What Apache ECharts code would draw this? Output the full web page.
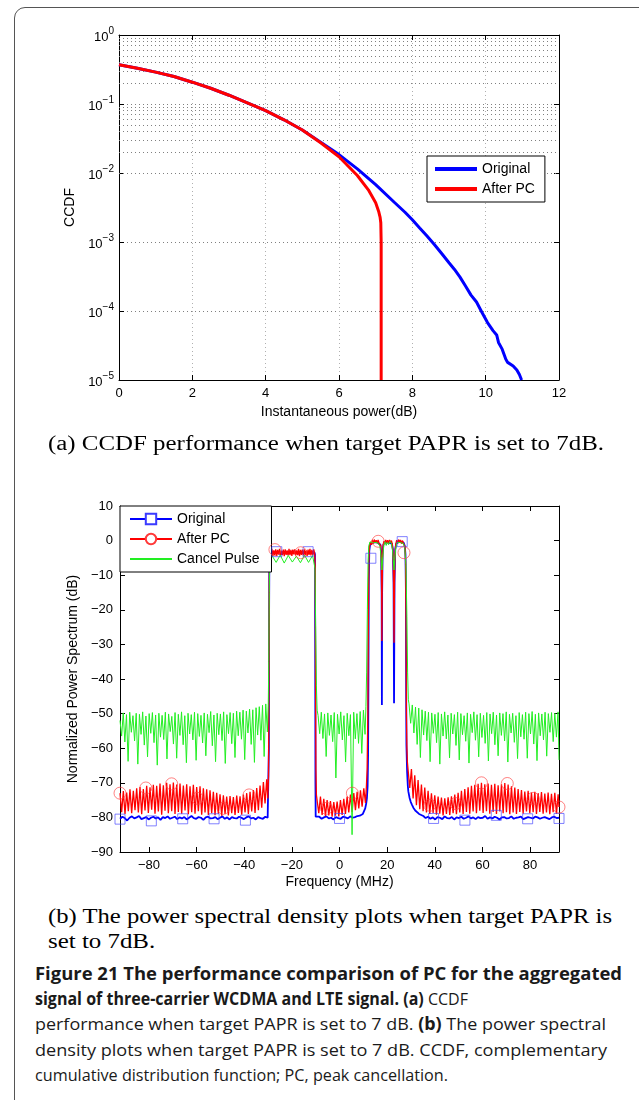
<!DOCTYPE html>
<html><head><meta charset="utf-8">
<script src="https://cdn.jsdelivr.net/npm/echarts@6/dist/echarts.min.js"></script>
<style>
body{margin:0;background:#fff;width:639px;height:1100px;overflow:hidden;position:relative;font-family:"Liberation Sans",Arial,sans-serif}
#frame{position:absolute;left:14px;top:7px;width:700px;height:1200px;border:1px solid #555;border-radius:11px;box-sizing:border-box}
#chart{position:absolute;left:0;top:0;width:639px;height:900px}
.cap{position:absolute;white-space:nowrap;transform-origin:0 50%;line-height:1}
.serif{font-family:"Liberation Serif","DejaVu Serif",serif;font-size:20px;color:#000}
.fig{font-family:"Open Sans","Lato",sans-serif;font-size:17px;color:#1a1a1a}
</style></head><body>
<div id="frame"></div>
<div id="chart"></div>
<div class="cap serif" data-w="556" data-c="443" style="left:48px">(a) CCDF performance when target PAPR is set to 7dB.</div>
<div class="cap serif" data-w="564" data-c="916" style="left:48px">(b) The power spectral density plots when target PAPR is</div>
<div class="cap serif" data-same="0" data-c="941" style="left:48px">set to 7dB.</div>
<div class="cap fig" data-w="587" data-c="973" style="left:35px"><b>Figure 21 The performance comparison of PC for the aggregated</b></div>
<div class="cap fig" data-w="433" data-c="998" style="left:35px"><b>signal of three-carrier WCDMA and LTE signal. (a)</b> CCDF</div>
<div class="cap fig" data-w="571" data-c="1023" style="left:35px">performance when target PAPR is set to 7 dB. <b>(b)</b> The power spectral</div>
<div class="cap fig" data-w="572" data-c="1049" style="left:35px">density plots when target PAPR is set to 7 dB. CCDF, complementary</div>
<div class="cap fig" data-w="413" data-c="1074" style="left:35px">cumulative distribution function; PC, peak cancellation.</div>
<script>
// ================= (a) CCDF data =================
const ccdfX_orig = [0,0.5,1,1.5,2,2.5,3,3.5,4,4.5,5,5.5,6,6.5,7,7.5,7.8,8.0,8.2,8.4,8.6,8.8,9.0,9.15,9.3,9.45,9.6,9.75,9.9,10.05,10.2,10.3,10.35,10.45,10.5,10.55,10.6,10.75,10.85,10.92,10.98];
const ccdfY_orig = [0.37,0.33,0.29,0.25,0.207,0.169,0.134,0.104,0.080,0.059,0.042,0.028,0.0185,0.0115,0.0068,0.0038,0.0027,0.0021,0.0016,0.00122,0.00092,0.00068,0.00050,0.00040,0.00031,0.00023,0.00017,0.000135,0.000095,0.000068,0.000052,0.000045,0.000035,0.000028,0.000027,0.000020,0.000018,0.000016,0.000014,0.000012,0.00001];
const ccdfX_pc = [0,0.5,1,1.5,2,2.5,3,3.5,4,4.5,5,5.5,6,6.5,6.8,7.0,7.08,7.12,7.14,7.15,7.15];
const ccdfY_pc = [0.37,0.33,0.29,0.25,0.207,0.169,0.134,0.104,0.080,0.059,0.042,0.0275,0.0172,0.0092,0.0057,0.0037,0.0028,0.0023,0.0019,0.0010,0.00001];

// ================= (b) PSD data (MHz, dB) =================
// Original
const origL_start = -92.16, origL_step = 1.0;
const origL = [-80.4,-79.8,-80.2,-80.9,-80.1,-79.7,-80.3,-80.0,-79.6,-80.5,
-80.2,-79.9,-80.6,-80.1,-79.8,-80.3,-80.0,-80.7,-79.9,-80.2,
-79.7,-80.4,-80.1,-79.8,-80.5,-80.0,-80.3,-79.9,-80.6,-80.1,
-79.6,-80.2,-80.4,-79.9,-80.1,-80.7,-80.0,-79.8,-80.3,-80.2,
-79.9,-80.5,-80.1,-79.7,-80.4,-80.0,-80.6,-79.9,-80.2,-80.3,
-79.8,-80.1,-80.5,-80.0,-79.7,-80.3,-80.1,-80.6,-79.9,-80.2,
-80.4,-79.8,-80.1];
const origEdge1 = [[-29.8,-80.2],[-29.65,-60],[-29.55,-20],[-29.45,-5],[-29.3,-3.4]];
const origTop1_start = -29.0, origTop1_step = 0.5;
const origTop1 = [-3.3,-3.6,-3.2,-3.8,-3.4,-3.5,-3.1,-3.7,-3.3,-3.9,-3.4,-3.2,-3.6,-3.5,-3.3,-3.8,-3.2,-3.5,-3.4,-3.7,-3.1,-3.6,-3.3,-3.5,-3.8,-3.2,-3.4,-3.6,-3.3,-3.7,-3.2,-3.5,-3.4,-3.6,-3.3,-3.5,-3.2,-3.4];
const origEdge2 = [[-10.3,-4],[-10.2,-30],[-10.1,-70],[-10.0,-79.8]];
const origMid_start = -9.5, origMid_step = 1.0;
const origMid = [-80.1,-79.8,-80.4,-80.0,-79.7,-80.3,-80.1,-80.6,-79.9,-80.2,-80.4,-79.8,-80.0,-80.3,-79.7,-80.1,-79.9,-79.6,-79.5];
const origBand2 = [[9.2,-79.3],[9.8,-79.0],[10.3,-78.5],[10.8,-77.4],[11.2,-76.0],[11.5,-74.5],[11.8,-71],[12.0,-62],[12.15,-40],[12.3,-12],[12.5,-3],[12.8,-1.3],
[13.5,-0.8],[14.2,-0.4],[15.0,-0.2],[15.8,-0.5],[16.6,-0.6],[17.2,-1.2],[17.5,-3.5],[17.7,-15],[17.8,-47.5],[17.9,-15],[18.1,-3.5],[18.4,-1.2],[19.0,-0.5],[19.8,-0.3],[20.5,-0.6],[21.3,-0.4],[22.0,-0.9],[22.4,-2.5],[22.7,-12],[22.9,-47],[23.1,-12],[23.4,-2.5],[23.8,-0.9],[24.5,-0.4],[25.3,-0.2],[26.1,-0.5],[26.9,-0.6],[27.4,-1.5],[27.7,-4],[27.9,-15],[28.0,-45],[28.1,-59],[28.4,-67],[28.7,-71],[28.9,-72.5],[29.4,-74.3],[29.9,-75.5],[30.4,-76.3],[31.0,-77.2],[31.8,-78.0],[32.6,-78.5],[33.4,-79.0],[34.3,-79.3],[35.2,-79.6]];
const origR_start = 36.16, origR_step = 1.0;
const origR = [-80.2,-79.8,-80.4,-80.0,-80.6,-79.9,-80.1,-80.5,-79.7,-80.2,
-80.3,-79.9,-80.6,-80.0,-80.2,-79.8,-80.4,-80.1,-79.7,-80.3,
-80.0,-80.5,-79.9,-80.2,-80.1,-79.6,-80.4,-80.0,-80.3,-79.8,
-80.1,-80.6,-80.0,-79.9,-80.3,-80.2,-79.7,-80.4,-80.1,-80.0,
-79.8,-80.5,-80.2,-79.9,-80.1,-80.3,-79.8,-80.0,-80.4,-80.1,
-79.9,-80.2,-80.5,-80.0,-79.8,-80.2,-80.1];
const origMarkers = [[-92.16,-80.5],[-79.0,-81.0],[-65.83,-80.4],[-52.66,-80.4],[-39.5,-80.8],[-26.33,-3.2],[-13.17,-3.2],[0,-80.3],[13.17,-5.1],[26.33,-0.3],[39.5,-80.3],[52.66,-80.8],[65.83,-79.4],[79.0,-80.4],[92.16,-80.3]];

// After PC
const pcL_start = -92.16, pcL_step = 0.7;
const pcL = [-73.0,-78.5,-72.4,-79.0,-72.8,-78.2,-71.9,-78.8,-72.3,-77.9,
-71.6,-78.6,-71.2,-79.1,-71.8,-78.0,-70.9,-78.7,-71.3,-77.8,
-70.6,-78.9,-70.9,-78.3,-70.2,-79.2,-70.7,-78.1,-70.0,-78.8,
-70.4,-78.2,-69.9,-79.0,-70.5,-78.4,-70.2,-78.9,-70.8,-78.0,
-70.4,-79.1,-71.0,-78.5,-70.6,-78.9,-71.2,-78.2,-71.0,-79.2,
-71.6,-78.6,-71.9,-79.3,-72.2,-78.8,-72.6,-79.4,-72.9,-78.9,
-73.3,-79.5,-73.6,-79.0,-74.0,-79.4,-73.8,-78.8,-74.1,-79.3,
-73.7,-78.7,-73.9,-79.2,-73.4,-78.6,-73.0,-79.0,-72.6,-78.3,
-72.1,-78.7,-71.5,-77.9,-70.8,-77.2,-69.8,-76.0,-69.0];
const pcEdge1 = [[-30.1,-74.5],[-29.8,-68],[-29.65,-45],[-29.5,-12],[-29.35,-3.5]];
const pcTop1_start = -29.2, pcTop1_step = 0.4;
const pcTop1 = [-2.6,-4.2,-2.4,-4.5,-2.8,-4.1,-2.5,-4.4,-2.7,-4.0,-2.4,-4.3,-2.9,-4.2,-2.6,-4.5,-2.5,-4.1,-2.8,-4.3,-2.4,-4.2,-2.7,-4.4,-2.6,-4.0,-2.5,-4.3,-2.8,-4.2,-2.4,-4.5,-2.7,-4.1,-2.6,-4.3,-2.5,-4.2,-2.8,-4.4,-2.6,-4.1,-2.4,-4.3,-2.7,-4.2,-2.5,-4.0];
const pcEdge2 = [[-10.2,-8],[-10.05,-40],[-9.9,-66],[-9.7,-73.5]];
const pcMid_start = -9.4, pcMid_step = 0.7;
const pcMid = [-73.0,-78.8,-74.0,-79.3,-74.6,-79.6,-75.0,-79.4,-75.3,-79.8,
-75.6,-79.5,-75.4,-79.7,-75.0,-79.3,-74.6,-79.0,-74.0,-78.6,
-73.4,-78.4,-73.0,-77.9,-72.6,-77.4,-72.2,-76.9,-71.6,-75.8];
const pcBand2 = [[11.3,-71],[11.6,-66],[11.9,-50],[12.15,-20],[12.35,-5],[12.6,-1.5],
[13.0,-0.4],[13.4,-1.2],[13.8,0.2],[14.2,-0.9],[14.6,0.3],[15.0,-0.6],[15.4,0.1],[15.8,-0.8],[16.2,0.2],[16.6,-0.7],[17.0,-0.2],[17.3,-1.5],[17.55,-5],[17.7,-15],[17.8,-29],[17.9,-15],[18.05,-5],[18.3,-1.5],[18.6,-0.2],[19.0,-0.9],[19.4,0.2],[19.8,-0.7],[20.2,0.1],[20.6,-0.8],[21.0,0.2],[21.4,-0.6],[21.8,0],[22.2,-1.2],[22.5,-4],[22.7,-12],[22.9,-29.5],[23.1,-12],[23.3,-4],[23.6,-1.2],[24.0,0.1],[24.4,-0.8],[24.8,0.3],[25.2,-0.6],[25.6,0.2],[26.0,-0.9],[26.4,0],[26.8,-0.7],[27.2,-0.3],[27.5,-1.8],[27.75,-6],[27.95,-25],[28.1,-50],[28.3,-60],[28.5,-64]];
const pcR_start = 28.8, pcR_step = 0.7;
const pcR = [-64.0,-71.5,-66.0,-74.5,-67.8,-76.5,-69.2,-77.6,-70.5,-78.2,
-71.4,-78.6,-72.3,-79.0,-73.0,-78.7,-73.6,-79.2,-74.0,-78.9,
-74.3,-79.4,-74.5,-79.0,-74.2,-79.3,-73.9,-78.8,-73.4,-79.1,
-72.9,-78.6,-72.3,-79.0,-71.8,-78.4,-71.3,-78.9,-70.9,-78.3,
-70.6,-78.8,-70.3,-78.1,-70.0,-78.7,-70.4,-78.2,-70.2,-78.9,
-70.6,-78.4,-70.3,-79.0,-70.7,-78.3,-70.4,-78.8,-70.1,-78.5,
-70.5,-79.1,-71.0,-78.6,-71.4,-79.0,-71.8,-78.4,-72.1,-78.9,
-72.5,-78.3,-72.3,-78.8,-72.8,-78.5,-72.6,-79.0,-73.0,-78.4,
-72.7,-78.9,-73.1,-78.6,-72.8,-79.1,-73.2,-78.5,-72.9,-78.9,
-73.3];
const pcEnd = [[92.16,-77.0]];
const pcMarkers = [[-92.16,-73.0],[-81.32,-71.5],[-70.48,-70.3],[-59.64,-74.5],[-48.8,-77.4],[-37.96,-73.5],[-27.12,-2.6],[-16.28,-3.5],[-5.44,-77.4],[5.4,-73.0],[16.24,-0.2],[27.08,-3.5],[37.92,-76.5],[48.76,-76.0],[59.6,-70.0],[70.44,-70.2],[81.28,-74.5],[92.16,-77.0]];

// Cancel Pulse
const cpL_start = -92.16, cpL_step = 0.68;
const cpL = [-52.0,-56.5,-49.8,-58.2,-50.3,-63.8,-49.6,-55.4,-50.6,-57.9,
-49.9,-64.6,-50.2,-56.0,-49.5,-59.1,-50.7,-62.5,-50.0,-55.7,
-49.7,-58.4,-50.4,-64.9,-49.9,-56.8,-50.5,-57.5,-49.6,-63.1,
-50.1,-55.2,-50.8,-58.8,-49.7,-62.9,-50.2,-56.3,-49.5,-59.0,
-50.6,-64.2,-49.9,-55.9,-50.3,-57.6,-49.6,-63.5,-50.0,-56.6,
-50.5,-58.5,-49.8,-62.2,-50.2,-55.5,-49.4,-59.3,-50.4,-63.9,
-49.9,-56.1,-50.1,-57.8,-49.5,-64.4,-50.3,-55.8,-49.7,-58.7,
-49.9,-62.7,-49.3,-56.4,-49.6,-57.4,-49.0,-63.3,-49.3,-55.6,
-48.7,-58.9,-48.9,-64.1,-48.3,-56.2,-48.0,-57.7,-47.6,-62.4,
-47.2,-55.3];
const cpEdge1 = [[-29.9,-47],[-29.7,-35],[-29.5,-15],[-29.3,-7],[-29.0,-5]];
const cpTop1_start = -28.3, cpTop1_step = 1.7;
const cpTop1 = [-4.4,-6.3,-4.2,-6.5,-4.3,-6.2,-4.5,-6.4,-4.2,-6.3,-4.3];
const cpEdge2 = [[-10.6,-3.8],[-10.3,-8],[-10.0,-25],[-9.7,-42],[-9.4,-49]];
const cpMid_start = -9.0, cpMid_step = 0.68;
const cpMid = [-50.5,-55.8,-49.6,-57.2,-50.1,-62.4,-49.8,-56.3,-50.4,-58.1,
-49.7,-68.6,-50.2,-55.9,-49.5,-57.6,-50.6,-64.0,-49.9,-56.4,
-50.3,-85.0,-49.6,-57.3,-50.0,-58.6,-49.4,-61.5,-49.0,-56.0];
const cpBand2 = [[11.1,-48],[11.4,-38],[11.7,-20],[12.0,-6],[12.3,-1.5],
[12.8,-0.4],[13.5,0],[14.3,-0.6],[15.0,-0.1],[15.8,-0.5],[16.5,-0.3],[17.0,-1.6],[17.4,-4.5],[17.8,-8.5],[18.2,-4.5],[18.6,-1.4],[19.1,-0.3],[19.6,-1.4],[20.1,-0.5],[20.6,-1.2],[21.2,-0.2],[21.8,-0.8],[22.2,-2.5],[22.6,-5.5],[22.9,-8.5],[23.2,-5.5],[23.6,-2.2],[24.1,-0.6],[24.8,-0.1],[25.5,-0.5],[26.2,-0.2],[26.9,-0.9],[27.4,-2.2],[27.9,-7],[28.3,-22],[28.6,-38],[28.9,-46]];
const cpR_start = 29.2, cpR_step = 0.68;
const cpR = [-47.2,-52.8,-47.5,-55.6,-48.1,-58.9,-48.4,-62.7,-48.9,-56.2,
-49.3,-57.8,-49.6,-63.9,-49.8,-55.7,-50.2,-58.4,-49.7,-64.6,
-50.1,-56.5,-49.5,-57.3,-50.4,-62.8,-49.9,-55.9,-50.3,-59.2,
-49.6,-63.4,-50.0,-56.1,-50.6,-58.0,-49.8,-64.3,-50.2,-55.5,
-49.5,-57.7,-50.3,-62.5,-49.9,-56.9,-50.5,-58.6,-49.7,-63.7,
-50.1,-55.8,-49.6,-59.0,-50.4,-62.2,-49.8,-56.3,-50.0,-57.9,
-49.5,-64.0,-50.2,-55.6,-49.9,-58.3,-50.6,-63.0,-49.7,-56.7,
-50.3,-57.4,-49.6,-62.9,-50.0,-55.9,-49.4,-58.8,-50.2,-63.6,
-49.8,-56.4,-50.1,-57.6,-49.6,-62.3,-50.0,-55.4,-49.7,-58.1,
-49.9,-56.8,-49.5];
const cpEnd = [[92.16,-63.4]];

const psdXTicks = [-80,-60,-40,-20,0,20,40,60,80];

// ================= build =================
const seg = (start, step, ys) => ys.map((y, i) => [+(start + i * step).toFixed(3), y]);
const zip = (xs, ys) => xs.map((x, i) => [x, ys[i]]);
const origData = [].concat(seg(origL_start, origL_step, origL), origEdge1, seg(origTop1_start, origTop1_step, origTop1), origEdge2, seg(origMid_start, origMid_step, origMid), origBand2, seg(origR_start, origR_step, origR));
const pcData = [].concat(seg(pcL_start, pcL_step, pcL), pcEdge1, seg(pcTop1_start, pcTop1_step, pcTop1), pcEdge2, seg(pcMid_start, pcMid_step, pcMid), pcBand2, seg(pcR_start, pcR_step, pcR), pcEnd);
const cpData = [].concat(seg(cpL_start, cpL_step, cpL), cpEdge1, seg(cpTop1_start, cpTop1_step, cpTop1), cpEdge2, seg(cpMid_start, cpMid_step, cpMid), cpBand2, seg(cpR_start, cpR_step, cpR), cpEnd);

const minorGrid = [];
for (let e = -5; e < 0; e++) for (let m = 2; m <= 9; m++) minorGrid.push({ yAxis: m * Math.pow(10, e) });

const FONT = '"Liberation Sans", Arial, Helvetica, sans-serif';
const minus = v => (v < 0 ? '\u2212' + (-v) : '' + v);
const axisBase = (extra) => Object.assign({
  axisLine: { show: true, onZero: false, lineStyle: { color: '#000', width: 1 } },
  axisTick: { show: true, inside: true, length: 5, lineStyle: { color: '#000' } },
  axisLabel: { color: '#000', fontSize: 13, fontFamily: FONT },
  splitLine: { show: false },
  nameTextStyle: { color: '#000', fontSize: 14, fontFamily: FONT }
}, extra);

const chart = echarts.init(document.getElementById('chart'), null, { renderer: 'canvas', width: 639, height: 900 });
chart.setOption({
  animation: false,
  textStyle: { fontFamily: FONT },
  grid: [
    { left: 119, top: 35, width: 440, height: 345 },
    { left: 120, top: 506, width: 439, height: 346 }
  ],
  legend: [
    { data: ['Original', 'After PC'], orient: 'vertical', left: 427, top: 156, icon: 'rect',
      itemWidth: 42, itemHeight: 4, itemGap: 6, padding: [6, 10, 6, 8], borderColor: '#000', borderWidth: 1,
      backgroundColor: '#fff', borderRadius: 0, selectedMode: false,
      textStyle: { color: '#000', fontSize: 14, fontFamily: FONT } },
    { data: [{ name: 'Original ' }, { name: 'After PC ' }, { name: 'Cancel Pulse', itemStyle: { opacity: 0 } }],
      orient: 'vertical', left: 120, top: 506, itemWidth: 42, itemHeight: 13, itemGap: 6,
      padding: [6, 12, 6, 9], borderColor: '#000', borderWidth: 1, backgroundColor: '#fff', borderRadius: 0,
      selectedMode: false, textStyle: { color: '#000', fontSize: 14, fontFamily: FONT } }
  ],
  xAxis: [
    axisBase({ gridIndex: 0, type: 'value', min: 0, max: 12, interval: 2, position: 'bottom',
      axisLabel: { color: '#000', fontSize: 13, margin: 7, fontFamily: FONT },
      splitLine: { show: true, lineStyle: { type: [1, 3], color: '#b0b0b0', width: 1 } },
      name: 'Instantaneous power(dB)', nameLocation: 'middle', nameGap: 25 }),
    axisBase({ gridIndex: 0, type: 'value', min: 0, max: 12, interval: 2, position: 'top', axisLabel: { show: false } }),
    axisBase({ gridIndex: 1, type: 'value', min: -92.16, max: 92.16, position: 'bottom',
      axisLabel: { color: '#000', fontSize: 13, margin: 7, fontFamily: FONT, customValues: psdXTicks, formatter: minus },
      axisTick: { show: true, inside: true, length: 5, lineStyle: { color: '#000' }, customValues: psdXTicks },
      name: 'Frequency (MHz)', nameLocation: 'middle', nameGap: 23 }),
    axisBase({ gridIndex: 1, type: 'value', min: -92.16, max: 92.16, position: 'top',
      axisLabel: { show: false, customValues: psdXTicks },
      axisTick: { show: true, inside: true, length: 5, lineStyle: { color: '#000' }, customValues: psdXTicks } })
  ],
  yAxis: [
    axisBase({ gridIndex: 0, type: 'log', logBase: 10, min: 1e-5, max: 1, position: 'left',
      axisLabel: { color: '#000', margin: 5, fontFamily: FONT,
        formatter: v => { const e = Math.round(Math.log10(v)); return '{b|10}{s|' + minus(e) + '}'; },
        rich: { b: { fontSize: 13, lineHeight: 17, verticalAlign: 'bottom', color: '#000', fontFamily: FONT },
                s: { fontSize: 10, lineHeight: 10, verticalAlign: 'top', color: '#000', fontFamily: FONT } } },
      splitLine: { show: true, lineStyle: { type: [1, 3], color: '#808080', width: 1 } },
      name: 'CCDF', nameLocation: 'middle', nameGap: 39 }),
    axisBase({ gridIndex: 0, type: 'log', logBase: 10, min: 1e-5, max: 1, position: 'right', axisLabel: { show: false } }),
    axisBase({ gridIndex: 1, type: 'value', min: -90, max: 10, interval: 10, position: 'left',
      axisLabel: { color: '#000', fontSize: 13, margin: 7, fontFamily: FONT, formatter: minus },
      name: 'Normalized Power Spectrum (dB)', nameLocation: 'middle', nameGap: 37 }),
    axisBase({ gridIndex: 1, type: 'value', min: -90, max: 10, interval: 10, position: 'right', axisLabel: { show: false } })
  ],
  series: [
    { name: 'Original', type: 'line', xAxisIndex: 0, yAxisIndex: 0, data: zip(ccdfX_orig, ccdfY_orig),
      symbol: 'none', showSymbol: false, lineStyle: { color: '#0000ff', width: 3 }, itemStyle: { color: '#0000ff' },
      markLine: { silent: true, symbol: ['none', 'none'], label: { show: false }, z: 1, animation: false,
        lineStyle: { type: [1, 3], color: '#808080', width: 1 }, emphasis: { disabled: true }, data: minorGrid } },
    { name: 'After PC', type: 'line', xAxisIndex: 0, yAxisIndex: 0, data: zip(ccdfX_pc, ccdfY_pc),
      symbol: 'none', showSymbol: false, lineStyle: { color: '#ff0000', width: 3 }, itemStyle: { color: '#ff0000' } },
    { name: 'Original ', type: 'line', xAxisIndex: 2, yAxisIndex: 2, data: origData, symbol: 'emptyRect', showSymbol: false,
      lineStyle: { color: '#0000ff', width: 1.8 }, itemStyle: { color: '#3a3aff' } },
    { name: 'After PC ', type: 'line', xAxisIndex: 2, yAxisIndex: 2, data: pcData, symbol: 'emptyCircle', showSymbol: false,
      lineStyle: { color: '#ff0000', width: 1.3 }, itemStyle: { color: '#ff3a3a' } },
    { name: 'Cancel Pulse', type: 'line', xAxisIndex: 2, yAxisIndex: 2, data: cpData, symbol: 'emptyCircle', showSymbol: false,
      lineStyle: { color: '#22ee22', width: 1 }, itemStyle: { color: '#22ee22' } },
    { name: 'origMarkers', type: 'scatter', xAxisIndex: 2, yAxisIndex: 2, data: origMarkers, symbol: 'rect', symbolSize: 10, z: 5,
      itemStyle: { color: 'rgba(0,0,0,0)', borderColor: 'rgba(60,60,255,0.8)', borderWidth: 1 }, silent: true },
    { name: 'pcMarkers', type: 'scatter', xAxisIndex: 2, yAxisIndex: 2, data: pcMarkers, symbol: 'circle', symbolSize: 12, z: 5,
      itemStyle: { color: 'rgba(0,0,0,0)', borderColor: 'rgba(255,60,60,0.8)', borderWidth: 1 }, silent: true }
  ]
});

// captions: vertical centre and width fitting
let serifScale = 1;
document.querySelectorAll('.cap').forEach(el => {
  const c = +el.dataset.c;
  const h = el.getBoundingClientRect().height;
  el.style.top = (c - h / 2) + 'px';
  const w = el.getBoundingClientRect().width;
  let s = 1;
  if (el.dataset.w) { s = (+el.dataset.w) / w; if (el.classList.contains('serif') && serifScale === 1) serifScale = s; }
  else if (el.dataset.same !== undefined) s = serifScale;
  el.style.transform = 'scaleX(' + s.toFixed(4) + ')';
});
</script>
</body></html>
